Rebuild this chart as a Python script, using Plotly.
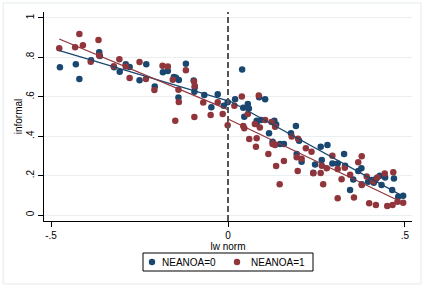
import plotly.graph_objects as go

# ---- data ----
blue_x = [-.475, -.43, -.42, -.387, -.364, -.362, -.322, -.306, -.289, -.278,
          -.25, -.231, -.207, -.184, -.17, -.153, -.147, -.139, -.14, -.119,
          -.097, -.094, -.095, -.067, -.047, -.029, -.012, -.001,
          .02, .04, .043, .056, .059, .046, .081, .081, .088, .105, .093, .131,
          .136, .116, .178, .192, .126, .147, .158, .201, .194, .208, .241, .246,
          .265, .262, .281, .295, .31, .328, .331, .354, .345, .368, .377, .378,
          .396, .405, .412, .418, .429, .434, .444, .464, .469, .481, .495]
blue_y = [.75, .765, .69, .785, .826, .807, .75, .727, .765, .751,
          .684, .765, .652, .724, .731, .70, .697, .685, .596, .768,
          .683, .648, .626, .609, .547, .613, .555, .572,
          .587, .738, .545, .563, .541, .499, .479, .462, .597, .587, .482, .479,
          .46, .415, .415, .452, .372, .36, .36, .377, .31, .271, .215, .257,
          .279, .347, .355, .262, .262, .31, .25, .181, .127, .223, .237, .156,
          .169, .178, .164, .183, .2, .152, .19, .127, .186, .093, .098]

red_x = [-.477, -.432, -.42, -.41, -.388, -.366, -.364, -.323, -.307, -.289, -.278,
         -.25, -.232, -.208, -.185, -.17, -.156, -.149, -.14, -.139, -.119,
         -.096, -.094, -.095, -.07, -.049, -.029, -.015, -.001,
         .018, .039, .043, .046, .056, .076, .087, .09, .105, .123, .06, .081,
         .079, .114, .126, .133, .133, .136, .146, .158, .18, .197, .198, .194,
         .208, .22, .236, .241, .262, .265, .269, .279, .295, .31, .31, .321,
         .33, .345, .356, .368, .378, .378, .392, .399, .41, .418, .422, .443,
         .45, .465, .467, .479, .495]
red_y = [.846, .851, .919, .861, .778, .888, .81, .755, .79, .753, .695,
         .777, .69, .635, .758, .753, .687, .478, .636, .574, .734,
         .678, .655, .498, .571, .507, .572, .513, .456,
         .555, .602, .452, .44, .513, .462, .607, .444, .482, .472, .386, .39,
         .347, .31, .36, .355, .448, .249, .157, .274, .398, .223, .387, .293,
         .286, .339, .321, .212, .213, .25, .156, .237, .301, .234, .085, .182,
         .24, .205, .089, .268, .298, .152, .196, .06, .171, .051, .19, .211,
         .046, .051, .217, .068, .063]

# fitted lines (each side of the cutoff)
blue_fit_left_x = [-.476, 0]
blue_fit_left_y = [.834, .579]
blue_fit_right_x = [0, .495]
blue_fit_right_y = [.584, .095]
red_fit_left_x = [-.477, 0]
red_fit_left_y = [.893, .535]
red_fit_right_x = [0, .48]
red_fit_right_y = [.487, .075]

x_ticks = [-.5, 0, .5]
x_tick_text = ["-.5", "0", ".5"]
y_ticks = [0, .2, .4, .6, .8, 1]
y_tick_text = ["0", ".2", ".4", ".6", ".8", "1"]
legend_labels = ["NEANOA=0", "NEANOA=1"]

BLUE = "#1a476f"
RED = "#90353b"
FONT = "Liberation Sans, Arial, sans-serif"

fig = go.Figure()
fig.add_trace(go.Scatter(x=blue_x, y=blue_y, mode="markers", name=legend_labels[0],
                         showlegend=False,
                         marker=dict(color=BLUE, size=6.5, line=dict(width=0))))
fig.add_trace(go.Scatter(x=red_x, y=red_y, mode="markers", name=legend_labels[1],
                         showlegend=False,
                         marker=dict(color=RED, size=6.5, line=dict(width=0))))
for fx, fy, c in [(blue_fit_left_x, blue_fit_left_y, BLUE),
                  (blue_fit_right_x, blue_fit_right_y, BLUE),
                  (red_fit_left_x, red_fit_left_y, RED),
                  (red_fit_right_x, red_fit_right_y, RED)]:
    fig.add_trace(go.Scatter(x=fx, y=fy, mode="lines", showlegend=False,
                             line=dict(color=c, width=1.2), hoverinfo="skip"))

fig.add_shape(type="line", xref="x", yref="paper", x0=0, x1=0, y0=0, y1=1,
              line=dict(color="#555555", width=2, dash="6px,3px"))
# outer graph border
fig.add_shape(type="rect", xref="paper", yref="paper",
              x0=-0.111, x1=1.0245, y0=-0.301, y1=1.043,
              line=dict(color="#e3eaed", width=1), fillcolor="rgba(0,0,0,0)")

# legend box (Stata style), drawn in paper coordinates below the plot
PW, PH = 368.0, 209.0
def px_x(p):
    return (p - 44) / PW
def px_y(p):
    return (221 - p) / PH

fig.add_shape(type="rect", xref="paper", yref="paper",
              x0=px_x(143), x1=px_x(313), y0=px_y(271), y1=px_y(253),
              line=dict(color="black", width=1), fillcolor="white")
r = 3.2
for cx, col, tx, lab in [(152, BLUE, 160, legend_labels[0]),
                         (237, RED, 249, legend_labels[1])]:
    fig.add_shape(type="circle", xref="paper", yref="paper",
                  x0=px_x(cx - r), x1=px_x(cx + r), y0=px_y(262 + r), y1=px_y(262 - r),
                  line=dict(width=0), fillcolor=col)
    fig.add_annotation(xref="paper", yref="paper", x=px_x(tx), y=px_y(262),
                       xanchor="left", yanchor="middle", text=lab, showarrow=False,
                       font=dict(size=10, family=FONT, color="black"))

fig.update_layout(
    width=426, height=288,
    margin=dict(l=44, r=14, t=12, b=67, autoexpand=False),
    paper_bgcolor="white", plot_bgcolor="white",
    font=dict(family=FONT, size=10, color="black"),
    showlegend=False,
    xaxis=dict(range=[-.52, .52], tickvals=x_ticks, ticktext=x_tick_text,
               showgrid=False, zeroline=False, showline=True, linecolor="black",
               linewidth=1, ticks="outside", ticklen=5, tickcolor="black",
               automargin=False,
               title=dict(text="lw norm", standoff=1, font=dict(size=10))),
    yaxis=dict(range=[-.03, 1.03], tickvals=y_ticks, ticktext=y_tick_text,
               tickangle=-90, showgrid=True, gridcolor="#eaf0f2", gridwidth=1,
               zeroline=False, showline=True, linecolor="black", linewidth=1,
               ticks="outside", ticklen=5, tickcolor="black", automargin=False,
               title=dict(text="informal", standoff=0, font=dict(size=10))),
)

fig.write_html("out.html", config={"displayModeBar": False},
               post_script="document.body.style.margin='0';document.body.style.padding='0';")
